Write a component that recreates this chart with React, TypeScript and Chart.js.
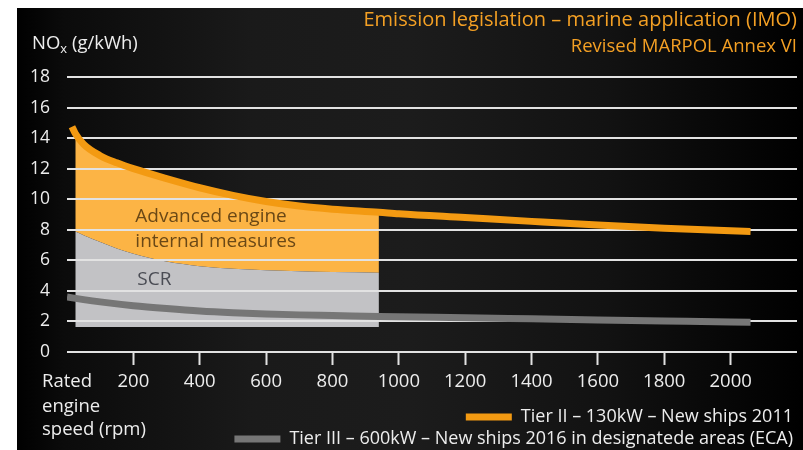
import React, { useEffect, useRef } from "react";
import { Chart, registerables } from "chart.js";

Chart.register(...registerables);

// ---------- data ----------
const titleText = "Emission legislation – marine application (IMO)";
const subtitleText = "Revised MARPOL Annex VI";
const yAxisTitle = ["NO", "x", " (g/kWh)"];
const xAxisTitle = ["Rated", "engine", "speed (rpm)"];

const tier2Label = "Tier II – 130kW – New ships 2011";
const tier3Label = "Tier III – 600kW – New ships 2016 in designatede areas (ECA)";

// Tier II limit curve (rpm, g/kWh)
const tier2Rpm = [15, 25, 50, 100, 150, 200, 300, 400, 500, 600, 700, 800, 940, 1000, 1200, 1400, 1600, 1800, 2000, 2060];
const tier2NOx = [14.75, 14.3, 13.6, 12.85, 12.38, 12.0, 11.35, 10.75, 10.25, 9.85, 9.55, 9.35, 9.15, 9.05, 8.8, 8.55, 8.31, 8.1, 7.93, 7.89];

// Tier III limit curve
const tier3Rpm = [0, 50, 100, 200, 300, 400, 500, 600, 700, 800, 940, 1200, 1400, 1600, 1800, 2000, 2060];
const tier3NOx = [3.6, 3.43, 3.28, 3.03, 2.84, 2.68, 2.57, 2.49, 2.43, 2.39, 2.33, 2.24, 2.17, 2.1, 2.03, 1.96, 1.94];

// Shaded regions (rpm 25 – 940)
const regionStartRpm = 25;
const regionEndRpm = 940;
const advancedLowRpm = [25, 50, 100, 150, 200, 300, 400, 500, 600, 700, 800, 940];
const advancedLowNOx = [7.88, 7.65, 7.2, 6.78, 6.43, 5.92, 5.62, 5.45, 5.35, 5.28, 5.23, 5.19];
const scrBottomRpm = [25, 940];
const scrBottomNOx = [1.64, 1.64];

const regionLabels = [
  { text: "Advanced engine", rpm: 206, nox: 8.88, color: "#6a4816" },
  { text: "internal measures", rpm: 206, nox: 7.22, color: "#6a4816" },
  { text: "SCR", rpm: 212, nox: 4.75, color: "#4a4c54" },
];

// ---------- styles ----------
const FONT = "'Open Sans', sans-serif";
const ORANGE_LINE = "#f39a12";
const ORANGE_FILL = "#fcb445";
const GRAY_FILL = "#c2c2c5";
const GRAY_LINE = "#767676";
const GRID = "#e2e2e2";
const TEXT = "#ededed";
const TITLE_COLOR = "#f4a024";

const pts = (xs: number[], ys: number[]) => xs.map((x, i) => ({ x, y: ys[i] }));

const overlayPlugin = {
  id: "overlay",
  afterDatasetDraw(chart: any, args: any) {
    if (args.index !== 2) return;
    const { ctx, chartArea, scales } = chart;
    const y = scales.y;
    const x = scales.x;
    ctx.save();
    ctx.strokeStyle = GRID;
    ctx.lineWidth = 2;
    y.ticks.forEach((t: any) => {
      const py = Math.round(y.getPixelForValue(t.value));
      ctx.beginPath();
      ctx.moveTo(chartArea.left, py);
      ctx.lineTo(chartArea.right, py);
      ctx.stroke();
    });
    ctx.font = `19px ${FONT}`;
    ctx.textAlign = "left";
    ctx.textBaseline = "middle";
    regionLabels.forEach((l) => {
      ctx.fillStyle = l.color;
      ctx.fillText(l.text, x.getPixelForValue(l.rpm), y.getPixelForValue(l.nox));
    });
    ctx.restore();
  },
  afterDraw(chart: any) {
    const { ctx, scales } = chart;
    const xs = scales.x;
    ctx.save();
    ctx.fillStyle = TEXT;
    ctx.textBaseline = "middle";
    ctx.textAlign = "left";
    // y axis title with subscript
    let px = 15;
    const py = 36;
    ctx.font = `18.5px ${FONT}`;
    ctx.fillText(yAxisTitle[0], px, py);
    px += ctx.measureText(yAxisTitle[0]).width;
    ctx.font = `13px ${FONT}`;
    ctx.fillText(yAxisTitle[1], px, py + 5);
    px += ctx.measureText(yAxisTitle[1]).width;
    ctx.font = `18.5px ${FONT}`;
    ctx.fillText(yAxisTitle[2], px, py);
    // x axis title
    const offs = [30, 55, 78];
    xAxisTitle.forEach((t, i) => ctx.fillText(t, 25, xs.top + offs[i]));
    ctx.restore();
  },
};

export default function App() {
  const ref = useRef<HTMLCanvasElement | null>(null);
  useEffect(() => {
    if (!ref.current) return;
    const inRegion = (r: number) => r >= regionStartRpm && r <= regionEndRpm;
    const topRpm = tier2Rpm.filter(inRegion);
    const topNOx = tier2NOx.filter((_, i) => inRegion(tier2Rpm[i]));
    const chart = new Chart(ref.current, {
      type: "line",
      data: {
        datasets: [
          {
            label: tier2Label,
            data: pts(tier2Rpm, tier2NOx),
            borderColor: ORANGE_LINE,
            borderWidth: 7,
            cubicInterpolationMode: "monotone",
            pointRadius: 0,
            fill: false,
          },
          {
            label: tier3Label,
            data: pts(tier3Rpm, tier3NOx),
            borderColor: GRAY_LINE,
            borderWidth: 7,
            cubicInterpolationMode: "monotone",
            pointRadius: 0,
            fill: false,
          },
          {
            label: "scr-bottom",
            data: pts(scrBottomRpm, scrBottomNOx),
            borderWidth: 0,
            borderColor: "rgba(0,0,0,0)",
            pointRadius: 0,
            fill: false,
          },
          {
            label: "advanced-low",
            data: pts(advancedLowRpm, advancedLowNOx),
            borderWidth: 0,
            borderColor: "rgba(0,0,0,0)",
            backgroundColor: GRAY_FILL,
            cubicInterpolationMode: "monotone",
            pointRadius: 0,
            fill: "-1",
          },
          {
            label: "advanced-top",
            data: pts(topRpm, topNOx),
            borderWidth: 0,
            borderColor: "rgba(0,0,0,0)",
            backgroundColor: ORANGE_FILL,
            cubicInterpolationMode: "monotone",
            pointRadius: 0,
            fill: "-1",
          },
        ],
      },
      options: {
        responsive: false,
        animation: false,
        devicePixelRatio: 1,
        layout: { padding: { left: 0, right: 6, top: 0, bottom: 0 } },
        plugins: {
          title: {
            display: true,
            text: titleText,
            align: "end",
            color: TITLE_COLOR,
            font: { family: FONT, size: 20, weight: "normal", lineHeight: 24 / 20 },
            padding: { top: 0, bottom: 0 },
          },
          subtitle: {
            display: true,
            text: subtitleText,
            align: "end",
            color: TITLE_COLOR,
            font: { family: FONT, size: 18.5, weight: "normal", lineHeight: 24 / 18.5 },
            padding: { top: 3, bottom: 18 },
          },
          legend: {
            position: "bottom",
            align: "end",
            maxHeight: 46,
            onClick: () => {},
            labels: {
              boxWidth: 46,
              boxHeight: 7,
              padding: 4,
              color: TEXT,
              font: { family: FONT, size: 18 },
              generateLabels: () => [
                { text: tier2Label, fillStyle: ORANGE_LINE, strokeStyle: ORANGE_LINE, lineWidth: 0, hidden: false, datasetIndex: 0, fontColor: TEXT },
                { text: tier3Label, fillStyle: GRAY_LINE, strokeStyle: GRAY_LINE, lineWidth: 0, hidden: false, datasetIndex: 1, fontColor: TEXT },
              ],
            },
          },
          tooltip: { enabled: false },
        },
        scales: {
          x: {
            type: "linear",
            min: 0,
            max: 2200,
            afterFit: (s: any) => {
              s.height = 52;
            },
            border: { display: false },
            grid: {
              drawOnChartArea: false,
              drawTicks: true,
              tickLength: 13,
              tickWidth: 2,
              tickColor: (c: any) =>
                c.tick && (c.tick.value === 0 || c.tick.value === 2200) ? "rgba(0,0,0,0)" : GRID,
            },
            ticks: {
              stepSize: 200,
              autoSkip: false,
              maxRotation: 0,
              padding: 6,
              color: TEXT,
              font: { family: FONT, size: 18.5 },
              callback: (v: any) => (v === 0 || v === 2200 ? "" : String(v)),
            },
          },
          y: {
            min: 0,
            max: 18,
            afterFit: (s: any) => {
              s.width = 50;
            },
            border: { display: false },
            grid: { color: GRID, lineWidth: 2, drawTicks: false },
            ticks: {
              stepSize: 2,
              padding: 17,
              color: TEXT,
              font: { family: FONT, size: 17.5 },
            },
          },
        },
      },
      plugins: [overlayPlugin],
    } as any);
    return () => chart.destroy();
  }, []);

  return (
    <div
      style={{
        position: "fixed",
        left: 17,
        top: 8,
        width: 786,
        height: 442,
        background:
          "linear-gradient(90deg, #000 0%, #0b0b0b 6%, #1a1a1a 30%, #1c1c1c 50%, #121212 75%, #000 100%)",
      }}
    >
      <canvas ref={ref} width={786} height={442} style={{ display: "block" }} />
    </div>
  );
}
